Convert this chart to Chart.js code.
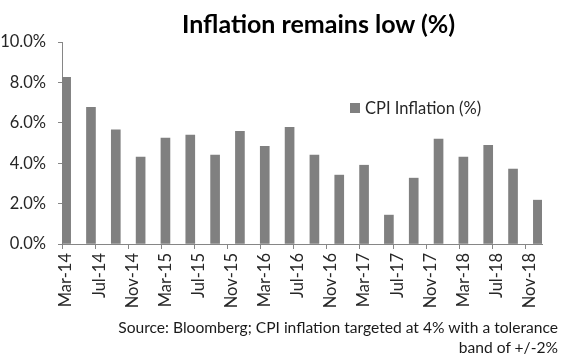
<!DOCTYPE html>
<html>
<head>
<meta charset="utf-8">
<script src="https://cdn.jsdelivr.net/npm/chart.js@4"></script>
<style>
   html, body { margin: 0; padding: 0; background: #fff; }
   #wrap { position: relative; width: 564px; height: 360px; }
   #titulo { position: absolute; left: 182px; top: 8px; font: bold 25px Lato; line-height: 30px; color: #000; white-space: nowrap; }
   #fuente { position: absolute; right: 6px; top: 317px; font: 15.6px Lato; line-height: 20px; color: #1a1a1a; text-align: right; white-space: nowrap; }
</style>
</head>
<body>
<div id="wrap">
   <canvas id="grafico" width="564" height="360"></canvas>
   <div id="titulo">Inflation remains low (%)</div>
   <div id="fuente">Source: Bloomberg; CPI inflation targeted at 4% with a tolerance<br>band of +/-2%</div>
</div>
<script>
// monthly slots of the date axis (Mar-14 .. Dec-18)
const months = [
   'Mar-14','Apr-14','May-14','Jun-14','Jul-14','Aug-14','Sep-14','Oct-14','Nov-14','Dec-14',
   'Jan-15','Feb-15','Mar-15','Apr-15','May-15','Jun-15','Jul-15','Aug-15','Sep-15','Oct-15','Nov-15','Dec-15',
   'Jan-16','Feb-16','Mar-16','Apr-16','May-16','Jun-16','Jul-16','Aug-16','Sep-16','Oct-16','Nov-16','Dec-16',
   'Jan-17','Feb-17','Mar-17','Apr-17','May-17','Jun-17','Jul-17','Aug-17','Sep-17','Oct-17','Nov-17','Dec-17',
   'Jan-18','Feb-18','Mar-18','Apr-18','May-18','Jun-18','Jul-18','Aug-18','Sep-18','Oct-18','Nov-18','Dec-18'
];

// quarterly readings
const quarters = [
   'Mar-14','Jun-14','Sep-14','Dec-14',
   'Mar-15','Jun-15','Sep-15','Dec-15',
   'Mar-16','Jun-16','Sep-16','Dec-16',
   'Mar-17','Jun-17','Sep-17','Dec-17',
   'Mar-18','Jun-18','Sep-18','Dec-18'
];
const cpi = [
   8.25, 6.77, 5.65, 4.30,
   5.24, 5.39, 4.40, 5.58,
   4.84, 5.78, 4.40, 3.41,
   3.90, 1.43, 3.26, 5.19,
   4.30, 4.89, 3.71, 2.17
];

const tickLabels = [
   'Mar-14','Jul-14','Nov-14','Mar-15','Jul-15','Nov-15','Mar-16','Jul-16',
   'Nov-16','Mar-17','Jul-17','Nov-17','Mar-18','Jul-18','Nov-18'
];
const yTicks = [0, 2, 4, 6, 8, 10];

const serieLabel = 'CPI Inflation (%)';
const barColor = '#808080';
const axisColor = '#868686';
const textColor = '#262626';

const datos = months.map(m => {
   const i = quarters.indexOf(m);
   return i >= 0 ? cpi[i] : null;
});

// legend drawn inside the plot, like the original
const leyenda = {
   id: 'leyenda',
   afterDraw(chart) {
      const ctx = chart.ctx;
      ctx.save();
      ctx.fillStyle = barColor;
      ctx.fillRect(350, 103, 10, 10);
      ctx.fillStyle = textColor;
      ctx.font = '16.5px Lato';
      ctx.textBaseline = 'middle';
      ctx.textAlign = 'left';
      ctx.fillText(serieLabel, 365, 108.5);
      ctx.restore();
   }
};

new Chart(document.getElementById('grafico'), {
   type: 'bar',
   data: {
      labels: months,
      datasets: [{
         label: serieLabel,
         data: datos,
         backgroundColor: barColor,
         barThickness: 9,
         skipNull: true
      }]
   },
   options: {
      responsive: false,
      animation: false,
      layout: { padding: { left: 0, right: 22, top: 42, bottom: 46 } },
      plugins: {
         legend: { display: false },
         tooltip: { enabled: false }
      },
      scales: {
         x: {
            type: 'category',
            offset: true,
            grid: {
               offset: true,
               drawOnChartArea: false,
               tickLength: 5,
               color: c => tickLabels.includes(months[c.index]) ? axisColor : 'rgba(0,0,0,0)'
            },
            border: { color: axisColor },
            ticks: {
               autoSkip: false,
               maxRotation: 90,
               minRotation: 90,
               padding: 4,
               color: textColor,
               font: { family: 'Lato', size: 16.5 },
               callback: (v, i) => tickLabels.includes(months[i]) ? months[i] : ''
            },
            afterFit: s => { s.height = 70; }
         },
         y: {
            min: 0,
            max: 10,
            afterBuildTicks: s => { s.ticks = yTicks.map(v => ({ value: v })); },
            grid: { drawOnChartArea: false, tickLength: 4, color: axisColor },
            border: { color: axisColor },
            ticks: {
               padding: 12,
               color: textColor,
               font: { family: 'Lato', size: 16.5 },
               callback: v => v.toFixed(1) + '%'
            },
            afterFit: s => { s.width = 62; }
         }
      }
   },
   plugins: [leyenda]
});
</script>
</body>
</html>
